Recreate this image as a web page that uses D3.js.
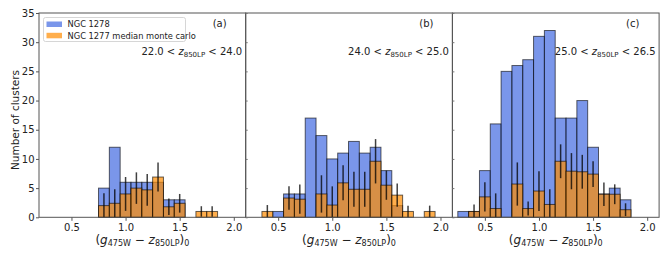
<!DOCTYPE html>
<html>
<head>
<meta charset="utf-8">
<script src="https://cdn.jsdelivr.net/npm/d3@7"></script>
<style>
  body { margin: 0; background: #fff; }
  text { font-family: "DejaVu Sans", sans-serif; fill: #222; }
</style>
</head>
<body>
<div id="chart"></div>
<script>
// bin centres (bin width 0.1)
const bins = [0.3, 0.4, 0.5, 0.6, 0.7, 0.8, 0.9, 1.0, 1.1, 1.2, 1.3, 1.4, 1.5, 1.6, 1.7, 1.8, 1.9];
const binWidth = 0.1;

// NGC 1278 counts
const blueA = [0, 0, 0, 0, 0, 5, 12, 6, 6, 6, 6, 3, 3, 0, 0, 0, 0];
const blueB = [0, 0, 1, 4, 4, 17, 14, 10, 11, 13, 11, 12, 8, 2, 0, 0, 0];
const blueC = [1, 1, 8, 16, 25, 26, 27, 31, 32, 17, 17, 20, 12, 4, 5, 3, 0];

// NGC 1277 median monte carlo
const orangeA = [0, 0, 0, 0, 0, 2.0, 2.4, 4.0, 5.0, 4.7, 6.9, 1.8, 2.4, 0, 1.0, 1.0, 0];
const orangeB = [0, 1.0, 0, 3.3, 3.1, 0, 4.0, 2.1, 5.9, 4.8, 4.8, 9.6, 5.5, 3.8, 1.0, 0, 1.0];
const orangeC = [0, 1.0, 3.5, 1.5, 0, 5.7, 1.5, 4.5, 2.2, 9.6, 7.9, 7.8, 7.4, 3.95, 3.95, 1.3, 0];

// error bars on the orange histogram
const errA = [0, 0, 0, 0, 0, 2.1, 2.4, 2.9, 2.7, 2.7, 2.5, 1.4, 1.6, 0, 0.9, 0.9, 0];
const errB = [0, 1.1, 0, 2.0, 2.5, 0, 3.2, 3.2, 3.0, 3.0, 3.0, 3.8, 2.5, 2.0, 1.0, 0, 1.0];
const errC = [0, 1.2, 2.5, 2.6, 0, 3.7, 1.2, 3.4, 2.6, 2.9, 3.1, 2.9, 2.2, 2.0, 1.7, 1.1, 0];

const panelLabels = ["(a)", "(b)", "(c)"];
const magRanges = [["22.0", "24.0"], ["24.0", "25.0"], ["25.0", "26.5"]];
const xTicks = [0.5, 1.0, 1.5, 2.0];
const yTicks = [0, 5, 10, 15, 20, 25, 30, 35];

const panels = [
  {blue: blueA, orange: orangeA, err: errA},
  {blue: blueB, orange: orangeB, err: errB},
  {blue: blueC, orange: orangeC, err: errC}
];

var width = 667, height = 262;
var mLeft = 39, mTop = 13, pw = 206.7, ph = 204.3;

var svg = d3.select("#chart").append("svg")
  .attr("width", width).attr("height", height);

var x = d3.scaleLinear().domain([0.2, 2.11]).range([0, pw]);
var y = d3.scaleLinear().domain([0, 35]).range([ph, 0]);

const blueFill = "royalblue", orangeFill = "darkorange";

panels.forEach(function(p, i) {
  var g = svg.append("g")
    .attr("transform", "translate(" + (mLeft + i * pw) + "," + mTop + ")");

  var rows = bins.map(function(b, j) {
    return {c: b, blue: p.blue[j], orange: p.orange[j], err: p.err[j]};
  });

  // blue bars
  g.selectAll(".blue")
    .data(rows.filter(function(d) { return d.blue > 0; }))
    .join("rect")
    .attr("class", "blue")
    .attr("x", function(d) { return x(d.c - binWidth / 2); })
    .attr("width", function(d) { return x(d.c + binWidth / 2) - x(d.c - binWidth / 2); })
    .attr("y", function(d) { return y(d.blue); })
    .attr("height", function(d) { return y(0) - y(d.blue); })
    .attr("fill", blueFill).attr("fill-opacity", 0.7)
    .attr("stroke", "#000").attr("stroke-opacity", 0.6).attr("stroke-width", 1);

  // orange bars
  g.selectAll(".orange")
    .data(rows.filter(function(d) { return d.orange > 0; }))
    .join("rect")
    .attr("class", "orange")
    .attr("x", function(d) { return x(d.c - binWidth / 2); })
    .attr("width", function(d) { return x(d.c + binWidth / 2) - x(d.c - binWidth / 2); })
    .attr("y", function(d) { return y(d.orange); })
    .attr("height", function(d) { return y(0) - y(d.orange); })
    .attr("fill", orangeFill).attr("fill-opacity", 0.7)
    .attr("stroke", "#000").attr("stroke-opacity", 0.6).attr("stroke-width", 1);

  // error bars
  g.selectAll(".err")
    .data(rows.filter(function(d) { return d.err > 0; }))
    .join("line")
    .attr("class", "err")
    .attr("x1", function(d) { return x(d.c); })
    .attr("x2", function(d) { return x(d.c); })
    .attr("y1", function(d) { return y(Math.max(0, d.orange - d.err)); })
    .attr("y2", function(d) { return y(d.orange + d.err); })
    .attr("stroke", "#000").attr("stroke-opacity", 0.75).attr("stroke-width", 1.5);

  // frame
  g.append("rect")
    .attr("width", pw).attr("height", ph)
    .attr("fill", "none").attr("stroke", "#555").attr("stroke-width", 1);

  // x axis
  var xa = g.append("g").attr("transform", "translate(0," + ph + ")")
    .call(d3.axisBottom(x).tickValues(xTicks).tickFormat(d3.format(".1f")).tickSize(3.5).tickPadding(3));
  xa.select(".domain").remove();
  xa.selectAll("line").attr("stroke", "#555");
  xa.selectAll("text").attr("font-size", "10px").attr("fill", "#222")
    .style("font-family", "DejaVu Sans");

  // y axis
  if (i === 0) {
    var ya = g.append("g")
      .call(d3.axisLeft(y).tickValues(yTicks).tickSize(3).tickPadding(1.5));
    ya.select(".domain").remove();
    ya.selectAll("line").attr("stroke", "#555");
    ya.selectAll("text").attr("font-size", "10px").attr("fill", "#222")
      .style("font-family", "DejaVu Sans");
  } else {
    var yb = g.append("g")
      .call(d3.axisRight(y).tickValues(yTicks).tickSize(2).tickFormat(""));
    yb.select(".domain").remove();
    yb.selectAll("line").attr("stroke", "#777");
  }

  // panel label
  g.append("text")
    .attr("x", 0.84 * pw).attr("y", 14)
    .attr("font-size", "10px")
    .text(panelLabels[i]);

  // magnitude range
  var t = g.append("text")
    .attr("x", pw - 3.5).attr("y", 42)
    .attr("text-anchor", "end")
    .attr("font-size", "10px");
  t.append("tspan").text(magRanges[i][0] + " < ");
  t.append("tspan").attr("font-style", "italic").text("z");
  t.append("tspan").attr("font-size", "7px").attr("dy", 1.5).text("850LP");
  t.append("tspan").attr("dy", -1.5).text(" < " + magRanges[i][1]);

  // x label
  var xl = g.append("text")
    .attr("x", pw / 2).attr("y", ph + 27)
    .attr("text-anchor", "middle")
    .attr("font-size", "12px");
  xl.append("tspan").text("(");
  xl.append("tspan").attr("font-style", "italic").text("g");
  xl.append("tspan").attr("font-size", "8px").attr("dy", 2).text("475W");
  xl.append("tspan").attr("dy", -2).text(" \u2212 ");
  xl.append("tspan").attr("font-style", "italic").text("z");
  xl.append("tspan").attr("font-size", "8px").attr("dy", 2).text("850LP");
  xl.append("tspan").attr("dy", -2).text(")");
  xl.append("tspan").attr("font-size", "8px").attr("dy", 2).text("0");
});

// y label
svg.append("text")
  .attr("transform", "translate(18.5,120) rotate(-90)")
  .attr("text-anchor", "middle")
  .attr("font-size", "10.5px")
  .text("Number of clusters");

// legend
var leg = svg.append("g").attr("transform", "translate(43.5,17.5)");
leg.append("rect")
  .attr("width", 142).attr("height", 24).attr("rx", 2)
  .attr("fill", "#fff").attr("fill-opacity", 0.8)
  .attr("stroke", "#ccc").attr("stroke-width", 0.8);
var legItems = [["NGC 1278", blueFill, 0.7], ["NGC 1277 median monte carlo", orangeFill, 0.7]];
legItems.forEach(function(it, k) {
  leg.append("rect")
    .attr("x", 3).attr("y", 4 + k * 11.3)
    .attr("width", 15.5).attr("height", 5.5)
    .attr("fill", it[1]).attr("fill-opacity", it[2]);
  leg.append("text")
    .attr("x", 24).attr("y", 9.8 + k * 11.3)
    .attr("font-size", "8.3px")
    .text(it[0]);
});
</script>
</body>
</html>
